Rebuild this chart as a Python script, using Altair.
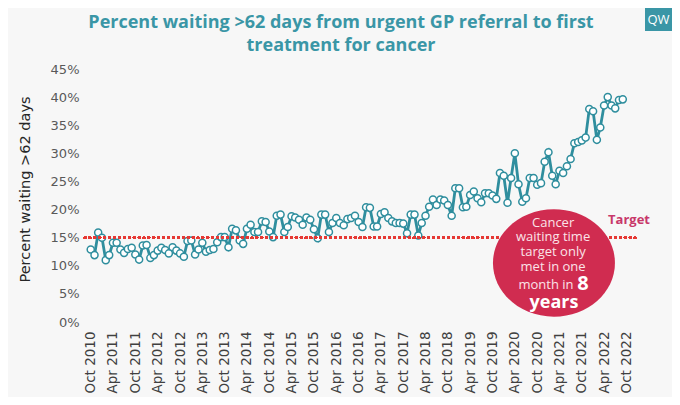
import altair as alt
import pandas as pd

# ---- data (percent of patients waiting >62 days) ----
values = [
    12.9, 11.9, 15.9, 15.0, 11.0, 11.9, 14.1, 14.1, 12.9, 12.3, 13.0, 13.2,
    12.0, 11.1, 13.6, 13.7, 11.4, 11.9, 12.7, 13.2, 12.8, 12.2, 13.3, 12.7,
    12.2, 11.6, 14.4, 14.5, 12.0, 12.9, 14.1, 12.5, 12.8, 13.0, 14.2, 15.1,
    15.1, 13.3, 16.6, 16.3, 14.5, 13.9, 16.6, 17.3, 16.0, 16.0, 17.9, 17.8,
    16.1, 15.1, 18.9, 19.1, 16.0, 16.9, 18.8, 18.6, 18.2, 17.3, 18.6, 18.2,
    16.5, 14.9, 19.1, 19.1, 16.0, 17.6, 18.5, 17.6, 17.2, 18.3, 18.5, 18.9,
    17.8, 16.9, 20.4, 20.3, 17.0, 17.0, 19.2, 19.5, 18.5, 17.9, 17.6, 17.6,
    17.5, 15.8, 19.1, 19.1, 15.4, 17.6, 18.9, 20.5, 21.8, 20.8, 21.8, 21.6,
    20.8, 18.9, 23.8, 23.8, 20.4, 20.5, 22.6, 23.2, 22.0, 21.3, 22.9, 22.9,
    22.5, 21.9, 26.5, 26.0, 21.2, 25.6, 30.0, 24.5, 21.4, 22.0, 25.6, 25.6,
    24.4, 24.7, 28.5, 30.2, 26.0, 24.5, 26.9, 26.5, 27.7, 29.0, 31.8, 32.0,
    32.3, 32.8, 37.9, 37.5, 32.4, 34.6, 38.5, 40.0, 38.5, 38.0, 39.5, 39.6,
]
first_month = "2010-10-01"
tick_labels = [
    "Oct 2010", "Apr 2011", "Oct 2011", "Apr 2012", "Oct 2012", "Apr 2013",
    "Oct 2013", "Apr 2014", "Oct 2014", "Apr 2015", "Oct 2015", "Apr 2016",
    "Oct 2016", "Apr 2017", "Oct 2017", "Apr 2018", "Oct 2018", "Apr 2019",
    "Oct 2019", "Apr 2020", "Oct 2020", "Apr 2021", "Oct 2021", "Apr 2022",
    "Oct 2022",
]
y_ticks = [0, 5, 10, 15, 20, 25, 30, 35, 40, 45]
target = 15

title_lines = ["Percent waiting >62 days from urgent GP referral to first",
               "treatment for cancer"]
y_title = "Percent waiting >62 days"

# annotation text (position in data units: date, percent)
callout_regular = [
    ("Cancer", "2021-02-08", 17.66),
    ("waiting time", "2021-02-08", 15.07),
    ("target only", "2021-02-08", 12.40),
    ("met in one", "2021-02-08", 9.84),
    ("month in", "2020-12-12", 6.58),
]
callout_bold = [
    ("8", "2021-10-11", 6.76, 20),
    ("years", "2021-02-15", 3.33, 18),
]
callout_centre = ("2021-02-15", 10.5)
target_label = ("Target", "2022-10-22", 18.14)

# ---- layout ----
W, H = 551, 253
TEAL = "#3A96A6"
LINE = "#2F8E9E"
CRIMSON = "#D02C50"

df = pd.DataFrame({
    "date": pd.date_range(first_month, periods=len(values), freq="MS"),
    "value": values,
})


def dt(s):
    t = pd.Timestamp(s)
    return alt.DateTime(year=t.year, month=t.month, date=t.day)


tick_dates = [dt(pd.to_datetime(t, format="%b %Y")) for t in tick_labels]

x_enc = alt.X(
    "date:T",
    scale=alt.Scale(domain=[dt("2010-08-07"), dt("2022-12-10")]),
    axis=alt.Axis(
        values=tick_dates, tickCount=len(tick_dates) + 5, format="%b %Y",
        labelAngle=270, labelOverlap=False, labelFlush=False, ticks=False,
        domain=False, grid=False, labelFont="DejaVu Sans", labelFontSize=13.5,
        labelColor="#404040", labelPadding=9, labelSeparation=0,
    ),
    title=None,
)
y_enc = alt.Y(
    "value:Q",
    scale=alt.Scale(domain=[0, 45], nice=False),
    axis=alt.Axis(
        values=y_ticks, tickCount=len(y_ticks) + 5,
        labelExpr="datum.value + '%'", ticks=False,
        labelOverlap=False, labelFlush=False,
        domain=False, grid=False, labelFont="DejaVu Sans", labelFontSize=13,
        labelColor="#595959", labelPadding=5, titleFont="DejaVu Sans",
        titleFontSize=14.5, titleFontWeight="normal", titleColor="#262626",
        titlePadding=18, titleY=120,
    ),
    title=y_title,
)

base = alt.Chart(df)

rule = base.mark_rule(
    color="#E53935", strokeWidth=2.6, strokeDash=[0.01, 4.9], strokeCap="round"
).encode(y=alt.datum(target))

line = base.mark_line(color=LINE, strokeWidth=2.8).encode(x=x_enc, y=y_enc)
pts = base.mark_point(
    filled=False, fill="white", stroke=LINE, strokeWidth=1.5, size=50, opacity=1
).encode(x=x_enc, y=y_enc)

one = pd.DataFrame({"a": [0]})

k = 0.5523
ry = 0.88
ellipse_path = (
    f"M -1 0 C -1 {-k*ry} {-k} {-ry} 0 {-ry} C {k} {-ry} 1 {-k*ry} 1 0 "
    f"C 1 {k*ry} {k} {ry} 0 {ry} C {-k} {ry} -1 {k*ry} -1 0 Z"
)
ellipse = alt.Chart(one).mark_point(
    shape=ellipse_path, filled=True, color=CRIMSON, opacity=1, size=122 * 122
).encode(x=alt.datum(dt(callout_centre[0])), y=alt.datum(callout_centre[1]))

layers = [line, pts, rule, ellipse]

for txt, d, v in callout_regular:
    layers.append(
        alt.Chart(one).mark_text(
            text=txt, font="Open Sans", fontSize=13, color="#FBE3E8",
            align="center", baseline="middle",
        ).encode(x=alt.datum(dt(d)), y=alt.datum(v))
    )
for txt, d, v, fs in callout_bold:
    layers.append(
        alt.Chart(one).mark_text(
            text=txt, font="Open Sans", fontSize=fs, fontWeight="bold",
            color="white", align="center", baseline="middle",
        ).encode(x=alt.datum(dt(d)), y=alt.datum(v))
    )

layers.append(
    alt.Chart(one).mark_text(
        text=target_label[0], font="Open Sans", fontSize=13, fontWeight="bold",
        color="#C8386A", align="center", baseline="middle",
    ).encode(x=alt.datum(dt(target_label[1])), y=alt.datum(target_label[2]))
)

# chart title (two centred lines above the plot)
for j, ln in enumerate(title_lines):
    layers.append(
        alt.Chart(one).mark_text(
            text=ln, font="Open Sans", fontSize=18, fontWeight="bold",
            color=TEAL, align="center", baseline="middle",
        ).encode(x=alt.value(257), y=alt.value(-46 + 23 * j))
    )

# QW logo badge (top-right corner)
logo = alt.Chart(one).mark_rect(color=TEAL).encode(
    x=alt.value(561), x2=alt.value(588), y=alt.value(-61), y2=alt.value(-38)
)
logo_txt = alt.Chart(one).mark_text(
    text="QW", font="Open Sans", fontSize=13, color="white",
    align="center", baseline="middle",
).encode(x=alt.value(574.5), y=alt.value(-49.5))
layers += [logo, logo_txt]

chart = alt.layer(*layers).properties(
    width=W, height=H,
    autosize=alt.AutoSizeParams(type="none"),
    padding={"left": 76, "top": 61, "right": 37, "bottom": 75},
).configure(background="#F7F7F7").configure_view(
    strokeWidth=0
).configure_axis(labelOverlap=False)

chart.save("out.html", embed_options={"renderer": "svg", "actions": False})
